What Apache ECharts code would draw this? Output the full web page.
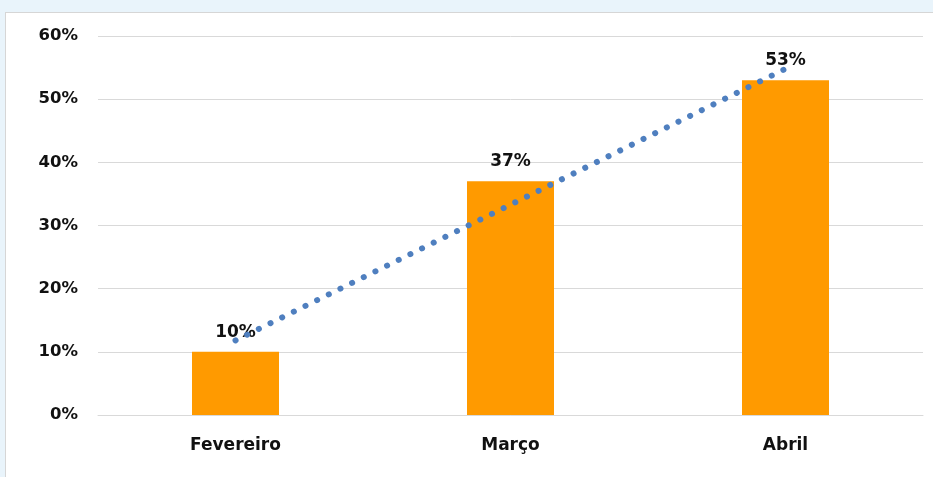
<!DOCTYPE html>
<html><head><meta charset="utf-8">
<script src="https://cdn.jsdelivr.net/npm/echarts@6/dist/echarts.min.js"></script>
<style>
html,body{margin:0;padding:0;background:#e9f4fb;width:933px;height:477px;overflow:hidden;}
#card{position:absolute;left:5px;top:12px;width:940px;height:480px;background:#fff;border:1px solid #d6d6d6;box-sizing:border-box;}
#c{position:absolute;left:0;top:0;width:933px;height:477px;}
</style></head><body>
<div id="card"></div>
<div id="c"></div>
<script>
const categories = ['Fevereiro', 'Março', 'Abril'];
const values = [10, 37, 53];
const trend = [11.8, 33.3, 54.8];
const yTicks = [0, 10, 20, 30, 40, 50, 60];

const chart = echarts.init(document.getElementById('c'), null, {renderer: 'canvas'});
const font = '"DejaVu Sans", sans-serif';
chart.setOption({
  animation: false,
  grid: {left: 98, right: 10, top: 36, bottom: 62},
  xAxis: {
    type: 'category', data: categories,
    axisLine: {show: true, lineStyle: {color: '#d9d9d9', width: 1}},
    axisTick: {show: false},
    axisLabel: {color: '#111', fontSize: 17, fontWeight: 'bold', fontFamily: font, margin: 22}
  },
  yAxis: {
    type: 'value', min: yTicks[0], max: yTicks[yTicks.length - 1], interval: 10,
    axisLine: {show: false}, axisTick: {show: false},
    splitLine: {lineStyle: {color: '#d9d9d9', width: 1}},
    axisLabel: {color: '#111', fontSize: 16.5, fontWeight: 'bold', fontFamily: font, margin: 20,
      formatter: v => v + '%'}
  },
  series: [
    {
      type: 'bar', data: values, barWidth: 87,
      itemStyle: {color: '#ff9a00'},
      label: {show: true, position: 'top', distance: 11, color: '#111', fontSize: 17,
        fontWeight: 'bold', fontFamily: font, formatter: p => p.value + '%'}
    },
    {
      type: 'line', data: trend, symbol: 'none', z: 5,
      lineStyle: {color: '#4f7fbf', width: 6, type: [0.1, 12.9], cap: 'round'}
    }
  ]
});
</script>
</body></html>
